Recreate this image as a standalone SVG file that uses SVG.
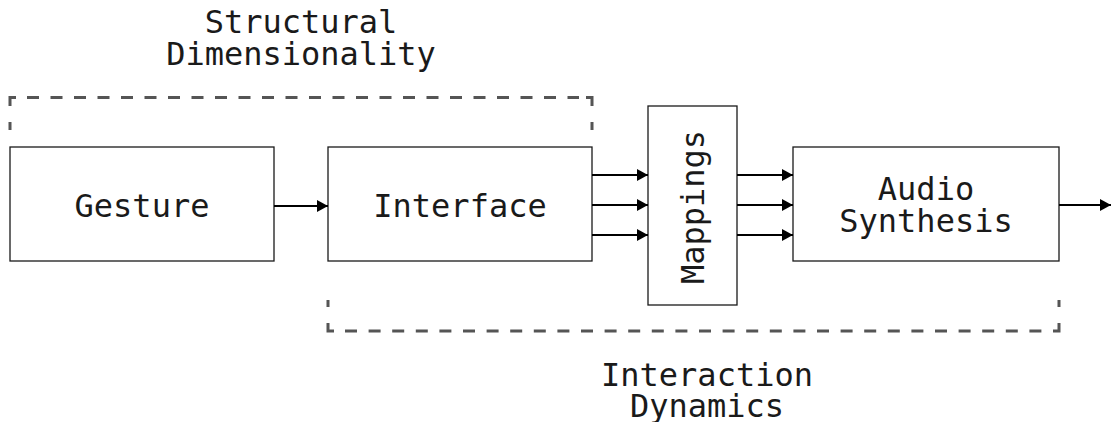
<svg xmlns="http://www.w3.org/2000/svg" width="1112" height="422" viewBox="0 0 1112 422">
  <defs>
    <style>
      .box { fill: #ffffff; stroke: #1a1a1a; stroke-width: 1.3; }
      .lbl { font-family: "DejaVu Sans Mono", "Liberation Mono", monospace; font-size: 32px; fill: #1a1a1a; text-anchor: middle; }
      .wire { stroke: #000000; stroke-width: 2; fill: none; marker-end: url(#head); }
      .brk { stroke: #555555; stroke-width: 3; fill: none; }
      .brk-dash { stroke: #555555; stroke-width: 3; fill: none; stroke-dasharray: 12 11.6; }
    </style>
    <marker id="head" viewBox="0 0 11 12" refX="11" refY="6" markerWidth="11" markerHeight="12" markerUnits="userSpaceOnUse" orient="auto">
      <path d="M0,0 L11,6 L0,12 Z" fill="#000000"/>
    </marker>
  </defs>

  <rect width="1112" height="422" fill="#ffffff"/>

  <!-- group brackets -->
  <g id="structural-dimensionality">
    <path class="brk" d="M10,122 V130 M10,106 V97.5 H16"/>
    <path class="brk" d="M592,122 V130 M592,106 V97.5 H586"/>
    <path class="brk-dash" style="stroke-dasharray: 12 11.5" d="M27,97.5 H579"/>
    <text class="lbl" x="301" y="33">Structural</text>
    <text class="lbl" x="301" y="65">Dimensionality</text>
  </g>

  <g id="interaction-dynamics">
    <path class="brk" d="M328,300 V307 M328,323 V331 H334"/>
    <path class="brk" d="M1059,300 V307 M1059,323 V331 H1053"/>
    <path class="brk-dash" d="M345,331 H1042"/>
    <text class="lbl" x="707" y="386">Interaction</text>
    <text class="lbl" x="707" y="417">Dynamics</text>
  </g>

  <!-- blocks -->
  <g id="gesture">
    <rect class="box" x="10" y="147" width="264" height="114"/>
    <text class="lbl" x="142" y="217">Gesture</text>
  </g>

  <g id="interface">
    <rect class="box" x="328" y="147" width="264" height="114"/>
    <text class="lbl" x="460" y="217">Interface</text>
  </g>

  <g id="mappings">
    <rect class="box" x="648" y="106" width="89" height="199"/>
    <text class="lbl" transform="translate(704,207) rotate(-90)">Mappings</text>
  </g>

  <g id="audio-synthesis">
    <rect class="box" x="793" y="147" width="266" height="114"/>
    <text class="lbl" x="926" y="200">Audio</text>
    <text class="lbl" x="926" y="232">Synthesis</text>
  </g>

  <!-- signal flow -->
  <g id="connectors">
    <line class="wire" x1="274" y1="206" x2="328" y2="206"/>
    <line class="wire" x1="592" y1="175" x2="648" y2="175"/>
    <line class="wire" x1="592" y1="205" x2="648" y2="205"/>
    <line class="wire" x1="592" y1="235" x2="648" y2="235"/>
    <line class="wire" x1="737" y1="175" x2="793" y2="175"/>
    <line class="wire" x1="737" y1="205" x2="793" y2="205"/>
    <line class="wire" x1="737" y1="235" x2="793" y2="235"/>
    <line class="wire" x1="1059" y1="205" x2="1111" y2="205"/>
  </g>
</svg>
